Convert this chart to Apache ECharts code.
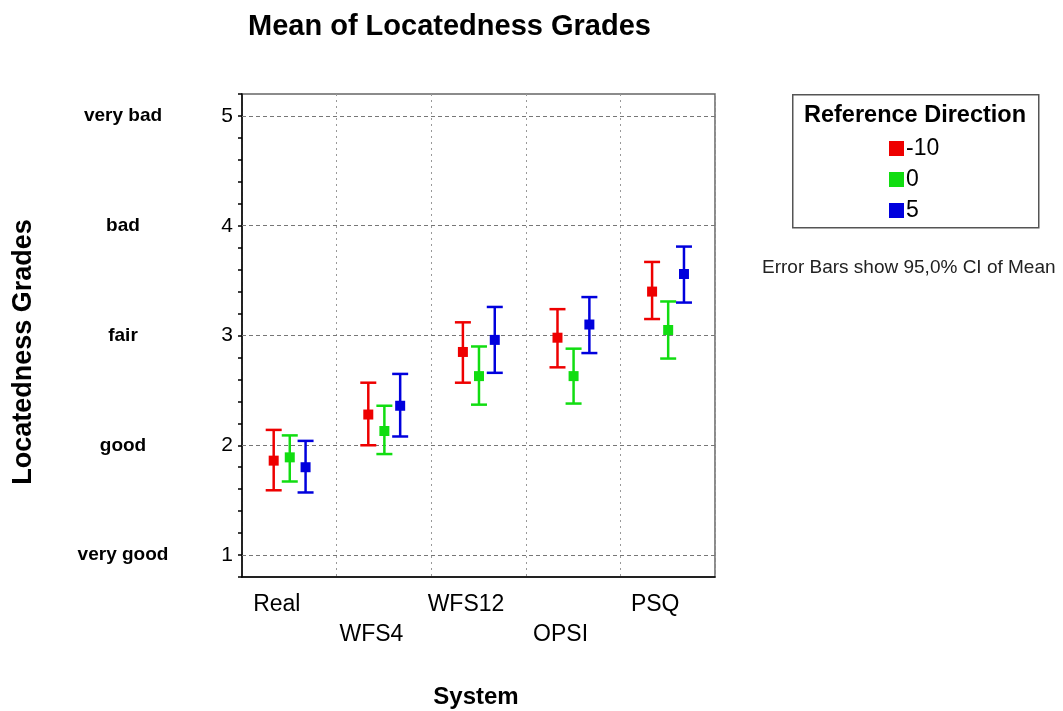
<!DOCTYPE html>
<html>
<head>
<meta charset="utf-8">
<script src="https://cdn.jsdelivr.net/npm/echarts@6/dist/echarts.min.js"></script>
<style>
html,body{margin:0;padding:0;background:#fff;}
#chart{width:1063px;height:711px;}
</style>
</head>
<body>
<div id="chart"></div>
<script>
// ---- data ----
const categories = ['Real', 'WFS4', 'WFS12', 'OPSI', 'PSQ'];
const seriesNames = ['-10', '0', '5'];
const meanM10 = [1.86, 2.28, 2.85, 2.98, 3.40];
const lowM10  = [1.59, 2.00, 2.57, 2.71, 3.15];
const highM10 = [2.14, 2.57, 3.12, 3.24, 3.67];
const mean0   = [1.89, 2.13, 2.63, 2.63, 3.05];
const low0    = [1.67, 1.92, 2.37, 2.38, 2.79];
const high0   = [2.09, 2.36, 2.90, 2.88, 3.31];
const mean5   = [1.80, 2.36, 2.96, 3.10, 3.56];
const low5    = [1.57, 2.08, 2.66, 2.84, 3.30];
const high5   = [2.04, 2.65, 3.26, 3.35, 3.81];
const gradeValues = [1, 2, 3, 4, 5];
const gradeLabels = ['very good', 'good', 'fair', 'bad', 'very bad'];

const FONT = '"Liberation Sans", Arial, Helvetica, sans-serif';
const colors = ['#ee0000', '#11dd11', '#0000dd'];
const offsets = [-0.165, 0.005, 0.172];
const groups = [[meanM10, lowM10, highM10], [mean0, low0, high0], [mean5, low5, high5]];

function makeSeries(k) {
  const [m, lo, hi] = groups[k];
  const data = categories.map((c, i) => [i, m[i], lo[i], hi[i]]);
  return {
    type: 'custom',
    name: seriesNames[k],
    itemStyle: { color: colors[k] },
    data: data,
    z: 5,
    renderItem: function (params, api) {
      const band = api.size([1, 0])[0];
      const x = api.coord([api.value(0), api.value(1)])[0] + offsets[k] * band;
      const yM = api.coord([api.value(0), api.value(1)])[1];
      const yL = api.coord([api.value(0), api.value(2)])[1];
      const yH = api.coord([api.value(0), api.value(3)])[1];
      const col = colors[k];
      const ls = { stroke: col, lineWidth: 2.5 };
      const cap = 8;
      return {
        type: 'group',
        children: [
          { type: 'line', shape: { x1: x, y1: yL, x2: x, y2: yH }, style: ls },
          { type: 'line', shape: { x1: x - cap, y1: yH, x2: x + cap, y2: yH }, style: ls },
          { type: 'line', shape: { x1: x - cap, y1: yL, x2: x + cap, y2: yL }, style: ls },
          { type: 'rect', shape: { x: x - 5, y: yM - 5, width: 10, height: 10 }, style: { fill: col } }
        ]
      };
    }
  };
}

const chart = echarts.init(document.getElementById('chart'), null, { renderer: 'canvas' });
const option = {
  backgroundColor: '#ffffff',
  animation: false,
  textStyle: { fontFamily: FONT },
  title: [
    {
      text: 'Mean of Locatedness Grades',
      left: 243, top: 7,
      textStyle: { fontFamily: FONT, fontSize: 29, fontWeight: 'bold', color: '#000' }
    },
    {
      text: 'Error Bars show 95,0% CI of Mean',
      left: 757, top: 253,
      textStyle: { fontFamily: FONT, fontSize: 19, fontWeight: 'normal', color: '#222' }
    }
  ],
  graphic: [
    {
      type: 'rect', left: 792, top: 94, z: 0,
      shape: { width: 246, height: 133 },
      style: { fill: '#fff', stroke: '#555', lineWidth: 1.5 }
    },
    {
      type: 'text', left: 804, top: 104, z: 1,
      style: { text: 'Reference Direction', font: 'bold 23.5px ' + FONT, fill: '#000' }
    },
    {
      type: 'text', x: 24, y: 352, rotation: Math.PI / 2, z: 1,
      style: {
        text: 'Locatedness Grades', font: 'bold 27px ' + FONT, fill: '#000',
        align: 'center', verticalAlign: 'middle'
      }
    }
  ],
  legend: {
    orient: 'vertical',
    left: 884, top: 132,
    itemWidth: 15, itemHeight: 15, itemGap: 8,
    icon: 'rect',
    z: 10,
    data: seriesNames,
    textStyle: { fontFamily: FONT, fontSize: 23, color: '#000', padding: [0, 0, 0, -3] }
  },
  grid: {
    left: 242, right: 348, top: 94, bottom: 134,
    outerBoundsMode: 'none',
    containLabel: false,
    show: true, borderColor: '#666', borderWidth: 1.5, backgroundColor: '#fff'
  },
  xAxis: {
    type: 'category',
    data: categories,
    boundaryGap: true,
    name: 'System',
    nameLocation: 'middle',
    nameGap: 108,
    nameTextStyle: { fontFamily: FONT, fontSize: 24, fontWeight: 'bold', color: '#000', padding: [0, 5, 0, 0] },
    axisLine: { lineStyle: { color: '#000', width: 1.5 } },
    axisTick: { alignWithLabel: true, interval: 0, length: 8, lineStyle: { color: '#000', width: 1.5 } },
    axisLabel: {
      interval: 0,
      hideOverlap: false,
      margin: 13,
      padding: [0, 25, 0, 0],
      fontFamily: FONT, fontSize: 23, color: '#000', lineHeight: 30,
      formatter: function (v, i) { return i % 2 ? '\n' + v : v; }
    },
    splitLine: { show: true, interval: 0, lineStyle: { color: '#999', type: [2, 4], width: 1 } }
  },
  yAxis: {
    type: 'value',
    min: 0.8, max: 5.2, interval: 0.2,
    axisLine: { show: true, lineStyle: { color: '#000', width: 1.5 } },
    axisTick: { show: true, length: 4, lineStyle: { color: '#000', width: 1.5 } },
    splitLine: { show: false },
    axisLabel: {
      margin: 9,
      formatter: function (v) {
        const r = Math.round(v);
        if (Math.abs(v - r) > 1e-6) return '';
        const idx = gradeValues.indexOf(r);
        if (idx < 0) return '';
        return '{t|' + gradeLabels[idx] + '}{n|' + r + '}';
      },
      rich: {
        t: { width: 168, align: 'center', fontFamily: FONT, fontSize: 19, fontWeight: 'bold', color: '#000', padding: [0, 0, 0, 0] },
        n: { width: 26, align: 'right', fontFamily: FONT, fontSize: 21, color: '#000' }
      }
    }
  },
  series: [
    {
      type: 'line', data: [], silent: true, z: 1,
      markLine: {
        silent: true, symbol: 'none', animation: false,
        label: { show: false },
        lineStyle: { color: '#777', type: [4, 3], width: 1 },
        data: gradeValues.map(v => ({ yAxis: v }))
      }
    },
    makeSeries(0), makeSeries(1), makeSeries(2)
  ]
};
chart.setOption(option);
</script>
</body>
</html>
